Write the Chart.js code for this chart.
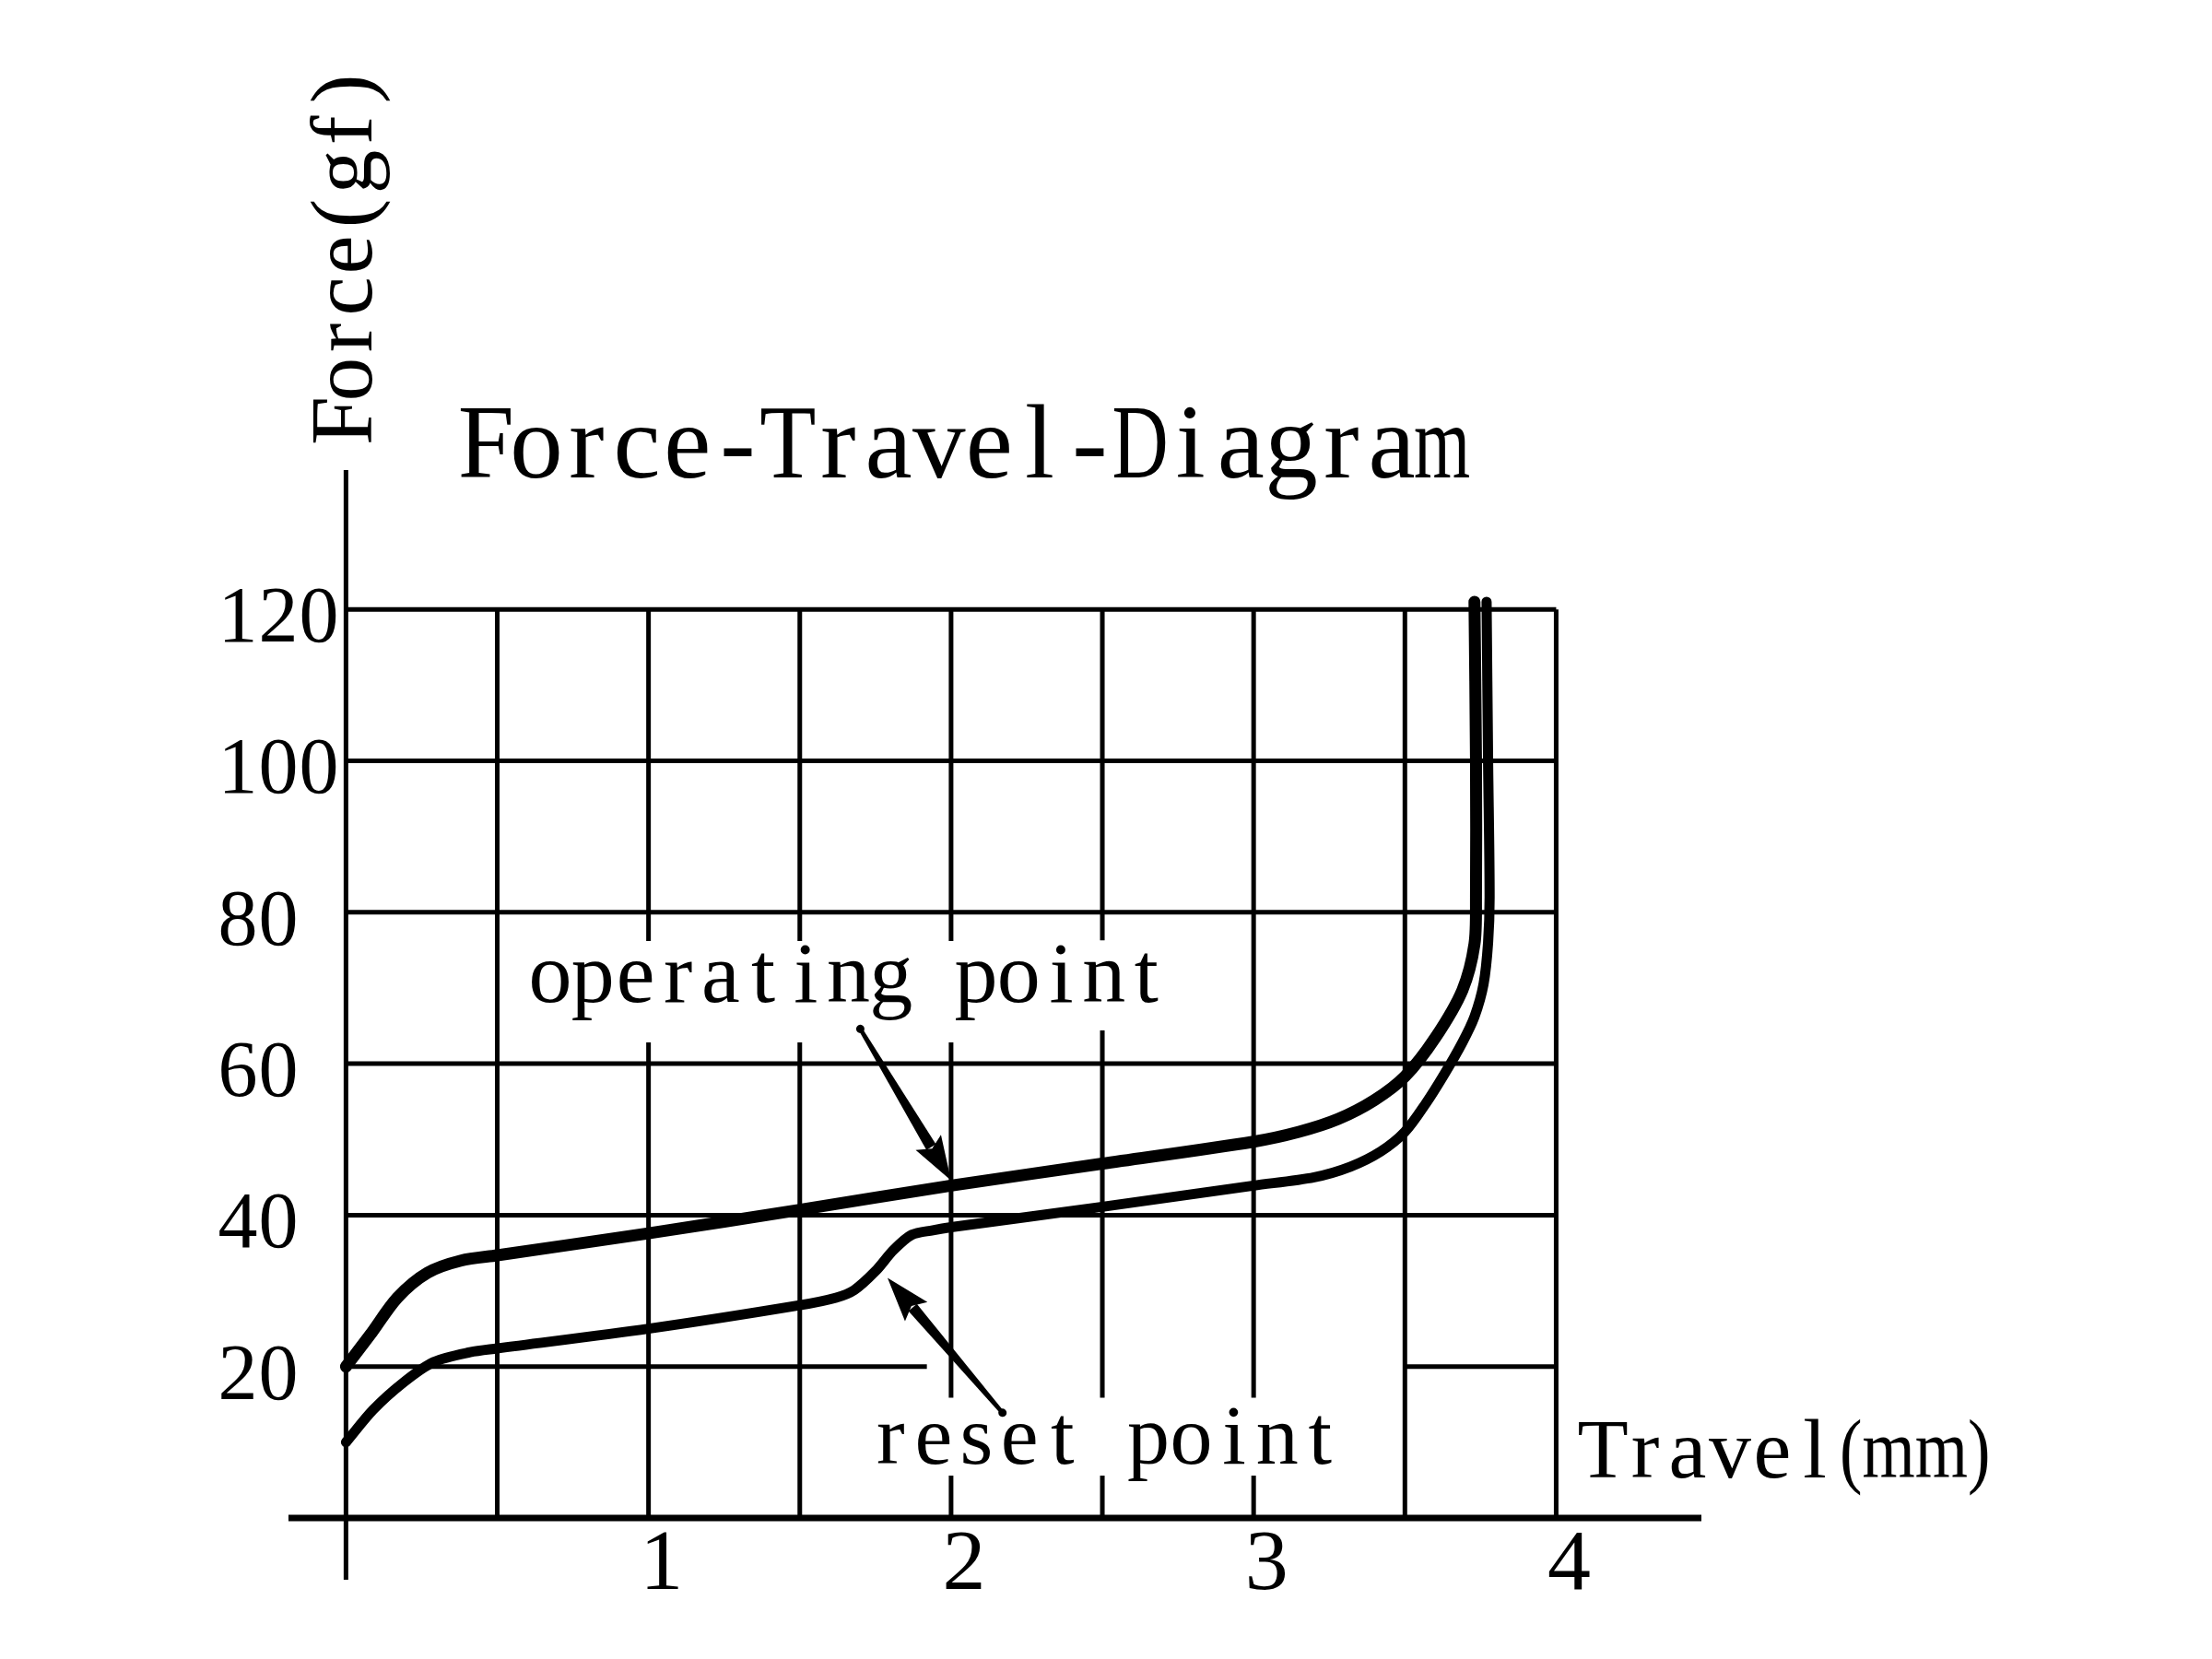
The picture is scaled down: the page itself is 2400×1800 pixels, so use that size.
<!DOCTYPE html>
<html>
<head>
<meta charset="utf-8">
<title>Force-Travel-Diagram</title>
<script src="https://cdn.jsdelivr.net/npm/chart.js@4.4.1/dist/chart.umd.min.js"></script>
<style>
    html, body { margin: 0; padding: 0; background: #fff; }
    #chart { display: block; }
</style>
</head>
<body>
<canvas id="chart" width="2400" height="1800"></canvas>
<script>
// Values (travel in mm, force in gf)
const travelOperating = [0, 0.08, 0.17, 0.27, 0.38, 0.5, 1.0, 1.5, 2.0, 2.5, 3.0, 3.15, 3.28, 3.4, 3.5, 3.6, 3.69, 3.73, 3.735, 3.735, 3.73];
const forceOperating = [20, 24.2, 29.1, 32.4, 34.0, 34.7, 37.6, 40.7, 43.9, 46.8, 49.7, 51.0, 52.7, 55.2, 58.3, 63.4, 69.7, 75.8, 82, 100, 121];

const travelReset = [0, 0.09, 0.19, 0.29, 0.41, 0.5, 1.0, 1.5, 1.62, 1.68, 1.75, 1.81, 1.87, 1.94, 2.0, 2.5, 3.0, 3.2, 3.32, 3.42, 3.5, 3.57, 3.63, 3.69, 3.73, 3.76, 3.775, 3.78, 3.775, 3.77];
const forceReset = [10, 14.3, 17.9, 20.6, 21.9, 22.4, 25.0, 28.1, 29.1, 30.1, 32.6, 35.4, 37.4, 38.0, 38.4, 41.1, 43.9, 45.0, 46.4, 48.4, 51.0, 54.8, 58.6, 62.8, 66.2, 70.5, 76, 82, 100, 121];

const travelTicks = [1, 2, 3, 4];
const forceTicks = [20, 40, 60, 80, 100, 120];

// Grid of the drawing: lines are broken where the labels sit
const verticalGrid = [
    { x: 0.5, spans: [[0, 120]] },
    { x: 1, spans: [[0, 62.8], [76.2, 120]] },
    { x: 1.5, spans: [[0, 62.8], [76.2, 120]] },
    { x: 2, spans: [[0, 5.6], [15.9, 62.8], [76.2, 120]] },
    { x: 2.5, spans: [[0, 5.6], [15.9, 64.4], [76.3, 120]] },
    { x: 3, spans: [[0, 5.6], [15.9, 120]] },
    { x: 3.5, spans: [[0, 120]] },
    { x: 4, spans: [[0, 120]] }
];
const horizontalGrid = [
    { y: 20, spans: [[0, 1.92], [3.5, 4]] },
    { y: 40, spans: [[0, 4]] },
    { y: 60, spans: [[0, 4]] },
    { y: 80, spans: [[0, 4]] },
    { y: 100, spans: [[0, 4]] },
    { y: 120, spans: [[0, 4]] }
];

const arrows = [
    { from: [1.70, 64.6], to: [2.0, 44.6] },
    { from: [2.17, 13.9], to: [1.79, 31.7] }
];

const FONT = '"Liberation Serif", "DejaVu Serif", serif';

// draws text with one fixed cell per character, like the half-width font of the original
function drawMono(ctx, text, x, y, cell, size, maxScale) {
    const limit = maxScale || 1.2;
    ctx.font = size + 'px ' + FONT;
    ctx.textAlign = 'center';
    ctx.textBaseline = 'alphabetic';
    [...text].forEach((ch, i) => {
        const w = ctx.measureText(ch).width;
        const sx = Math.min(1, (cell * limit) / w);
        ctx.save();
        ctx.translate(x + (i + 0.5) * cell, y);
        ctx.scale(sx, 1);
        ctx.fillText(ch, 0, 0);
        ctx.restore();
    });
}

function drawArrow(ctx, x1, y1, x2, y2) {
    const ang = Math.atan2(y2 - y1, x2 - x1);
    const len = Math.hypot(x2 - x1, y2 - y1);
    const head = 48, half = 16;
    ctx.save();
    ctx.translate(x1, y1);
    ctx.rotate(ang);
    // tapered shaft, thin at the tail
    ctx.beginPath();
    ctx.moveTo(0, -2.2);
    ctx.lineTo(len - head + 6, -6);
    ctx.lineTo(len - head + 6, 6);
    ctx.lineTo(0, 2.2);
    ctx.closePath();
    ctx.fill();
    ctx.beginPath();
    ctx.arc(0, 0, 4.5, 0, Math.PI * 2);
    ctx.fill();
    // head
    ctx.beginPath();
    ctx.moveTo(len, 0);
    ctx.lineTo(len - head, -half);
    ctx.lineTo(len - head + 8, 0);
    ctx.lineTo(len - head, half);
    ctx.closePath();
    ctx.fill();
    ctx.restore();
}

const diagramPlugin = {
    id: 'diagram',
    beforeDatasetsDraw(chart) {
        const ctx = chart.ctx;
        const xs = chart.scales.x;
        const ys = chart.scales.y;
        ctx.save();
        ctx.strokeStyle = '#000';
        ctx.lineCap = 'butt';
        ctx.lineWidth = 5;
        verticalGrid.forEach(g => {
            g.spans.forEach(s => {
                ctx.beginPath();
                ctx.moveTo(xs.getPixelForValue(g.x), ys.getPixelForValue(s[0]));
                ctx.lineTo(xs.getPixelForValue(g.x), ys.getPixelForValue(s[1]));
                ctx.stroke();
            });
        });
        horizontalGrid.forEach(g => {
            g.spans.forEach(s => {
                ctx.beginPath();
                ctx.moveTo(xs.getPixelForValue(s[0]), ys.getPixelForValue(g.y));
                ctx.lineTo(xs.getPixelForValue(s[1]), ys.getPixelForValue(g.y));
                ctx.stroke();
            });
        });

        // axes run past the grid on both ends
        ctx.lineWidth = 5;
        ctx.beginPath();
        ctx.moveTo(xs.getPixelForValue(0), ys.top);
        ctx.lineTo(xs.getPixelForValue(0), ys.bottom);
        ctx.stroke();
        ctx.lineWidth = 7;
        ctx.beginPath();
        ctx.moveTo(xs.left, ys.getPixelForValue(0));
        ctx.lineTo(xs.right, ys.getPixelForValue(0));
        ctx.stroke();
        ctx.restore();
    },
    afterDatasetsDraw(chart) {
        const ctx = chart.ctx;
        const xs = chart.scales.x;
        const ys = chart.scales.y;
        ctx.save();
        ctx.fillStyle = '#000';

        arrows.forEach(a => {
            drawArrow(ctx,
                xs.getPixelForValue(a.from[0]), ys.getPixelForValue(a.from[1]),
                xs.getPixelForValue(a.to[0]), ys.getPixelForValue(a.to[1]));
        });

        forceTicks.forEach(v => {
            drawMono(ctx, String(v), 236, ys.getPixelForValue(v) + 35, 44, 86);
        });
        travelTicks.forEach(v => {
            drawMono(ctx, String(v), xs.getPixelForValue(v) + 14 - 23, 1724, 46, 94);
        });

        drawMono(ctx, 'Force-Travel-Diagram', 500, 518, 54.6, 115, 1.12);
        drawMono(ctx, 'operating point', 574, 1087, 46.2, 94);
        drawMono(ctx, 'reset point', 943, 1588, 46.6, 92);
        drawMono(ctx, 'Travel', 1716, 1603, 46, 92);

        // the unit is set narrower than the rest
        ctx.save();
        ctx.translate(1996, 1603);
        ctx.scale(0.8, 1);
        ctx.font = '92px ' + FONT;
        ctx.textAlign = 'left';
        ctx.fillText('(mm)', 0, 0);
        ctx.restore();

        // y axis title, reading bottom to top
        ctx.save();
        ctx.translate(403, 479);
        ctx.rotate(-Math.PI / 2);
        drawMono(ctx, 'Force(gf)', 0, 0, 45, 95);
        ctx.restore();

        ctx.restore();
    }
};

document.addEventListener('DOMContentLoaded', () => {
    const canvas = document.getElementById('chart');

    const toPoints = (xs, ys) => xs.map((x, i) => ({ x: x, y: ys[i] }));

    new Chart(canvas.getContext('2d'), {
        type: 'scatter',
        data: {
            datasets: [
                {
                    label: 'operating',
                    data: toPoints(travelOperating, forceOperating),
                    showLine: true,
                    borderColor: '#000',
                    borderWidth: 13,
                    pointRadius: 0,
                    tension: 0.3,
                    borderCapStyle: 'round',
                    borderJoinStyle: 'round',
                    fill: false
                },
                {
                    label: 'reset',
                    data: toPoints(travelReset, forceReset),
                    showLine: true,
                    borderColor: '#000',
                    borderWidth: 11,
                    pointRadius: 0,
                    tension: 0.3,
                    borderCapStyle: 'round',
                    borderJoinStyle: 'round',
                    fill: false
                }
            ]
        },
        options: {
            responsive: false,
            animation: false,
            devicePixelRatio: 1,
            layout: {
                padding: { left: 313, right: 554, top: 510, bottom: 86 }
            },
            scales: {
                x: { type: 'linear', min: -0.19, max: 4.48, display: false },
                y: { type: 'linear', min: -8.15, max: 138.4, display: false }
            },
            plugins: {
                legend: { display: false },
                tooltip: { enabled: false }
            }
        },
        plugins: [diagramPlugin]
    });
});
</script>
</body>
</html>
